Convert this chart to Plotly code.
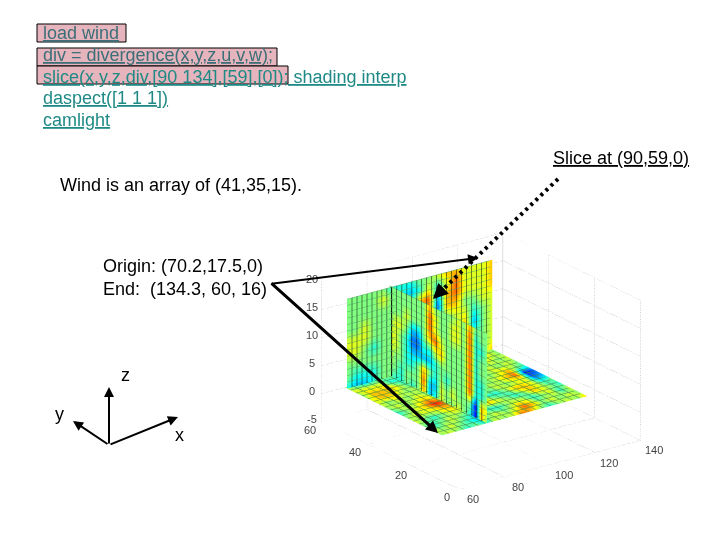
import plotly.graph_objects as go

W, H = 720, 540

# ---- data ----
floor_x = [70.2 + 4.006 * i for i in range(17)]
floor_y = [17.5, 21.4, 25.2, 29.1, 33.0, 36.8, 40.7, 44.5, 48.4, 52.2, 56.1, 60.0]
floor_div = [
    [0, 1, 0, -1, 0, -1, 1, 0, 1, 3, 2, 0, -1, 0, 1, 0, 2],
    [1, 0, 1, 0, -1, -2, 0, 1, 0, 1, 3, 2, 0, 1, 0, 1, 0],
    [0, -1, 0, 1, 0, -1, 1, -1, -1, 0, 1, 1, -1, 0, 1, -1, 1],
    [1, 0, -1, 0, 1, 1, 0, 1, 2, 1, 0, -1, 0, 2, 1, 0, -1],
    [0, 1, 1, 1, 2, 2, -1, 0, 1, -1, -1, 0, 2, 2, 1, -1, 0],
    [-1, 0, 1, 2, 4, 3, 0, -1, 0, 1, 0, 1, 0, 1, 1, -3, -2],
    [0, 1, 0, 1, 2, 1, 1, 0, -1, -2, 1, 0, 1, 2, 3, -4, -3],
    [1, 0, 1, 0, 1, 0, -1, 1, 0, 0, -1, 1, 0, 1, 2, 0, -1],
    [1, 2, 2, 1, 0, 1, 0, -1, 1, 0, 1, -1, 0, 1, 0, 1, 0],
    [0, 2, 2, 2, 1, -1, 0, 1, 0, 1, 0, 1, -1, 0, 1, 0, 1],
    [1, 1, 1, 1, -1, -1, 1, 0, -1, 1, 1, 0, 0, 1, 2, 1, 0],
    [0, -1, -2, -1, 0, 0, 0, 1, 1, 0, 0, 0, 1, 0, 1, 1, 0],
]

wall_x = floor_x
wall_y = 59.0
wall_z = [0, 2, 4, 6, 8, 10, 12, 14, 16]
wall_div = [
    [-1, -2, -2, -1, 0, 0, 0, 0, 0, 0, 0, 0, 0, 1, -1, 0, 2],
    [0, -1, -1, -1, 0, 0, 0, 0, 0, 0, 0, 0, 0, 1, -1, 0, 1],
    [0, 0, 0, 0, 0, 0, 0, 0, 0, 0, 0, 0, 0, 2, -1, 0, 1],
    [1, 1, 0, -1, 0, 0, 0, 0, 0, 0, 0, 0, 0, 2, -2, 0, 1],
    [1, 1, 1, 0, 0, 0, 0, 0, 0, 0, 0, 0, 1, 1, -1, 0, 1],
    [0, 0, 1, 0, 0, 0, 0, 0, 1, 3, -3, 2, 2, 0, 0, 1, 1],
    [0, 0, 0, 0, 0, 0, -1, -1, 2, 3, -2, 2, 3, 1, 1, 1, 2],
    [0, 0, 0, 0, 1, 0, -1, -2, -1, 1, -1, 1, 3, 1, 1, 1, 2],
    [0, 0, 0, 0, 0, -1, -1, -1, 0, 0, 1, 2, 2, 1, 1, 1, 2],
]

plane_x = 90.0
plane_y = [60, 57.5, 55, 52.5, 50, 47.5, 45, 42.5, 40, 37.5, 35, 32.5, 30, 27.5, 25, 22.5, 20, 17.5]
plane_z = [0, 2, 4, 6, 8, 10, 12, 14, 16]
plane_div = [
    [0, -1, -1, 0, -1, 0, 2, -2, -1, 1, 0, 0, 1, 0, -1, -4, 2, 0],
    [0, 0, -1, 0, 0, 0, 3, -2, -2, 1, 0, 1, 0, 0, 0, -4, 2, 1],
    [1, 0, 0, -1, -1, 0, 2, 0, -1, 0, -1, 0, 0, 0, 3, -1, -1, 0],
    [1, 1, 0, -1, -2, -2, -2, -2, -1, 0, 0, 0, 0, 0, 3, -1, -1, 0],
    [1, 1, 0, -1, -3, -3, -1, -1, 1, 2, 0, 0, 0, 0, 3, -1, 0, 0],
    [0, 1, 1, 0, -2, -2, 0, 2, 3, 1, 0, 0, 0, 0, 3, -1, 0, 0],
    [0, 0, 0, 1, 0, 0, 0, 3, 1, 0, 0, 1, 1, 0, 3, -1, -1, 0],
    [0, 0, 0, 0, 0, 0, 0, 3, 1, 0, 0, 1, 1, 0, 3, -1, 0, 0],
    [0, 0, 0, 0, 0, 0, 0, 2, 0, 0, 0, 0, 1, 0, 2, 0, 0, 0],
]

x_ticks = [60, 80, 100, 120, 140]
y_ticks = [0, 20, 40, 60]
z_ticks = [-5, 0, 5, 10, 15, 20]
x_range = [60, 140]
y_range = [0, 60]
z_range = [-5, 20]

code_lines = ["load wind", "div = divergence(x,y,z,u,v,w);",
              "slice(x,y,z,div,[90 134],[59],[0]); shading interp",
              "daspect([1 1 1])", "camlight"]
code_colors = ["#3d6f78", "#3d6f78", "#1f8a85", "#1f8a85", "#1f8a85"]
code_y = [33, 55, 77, 98, 120]
highlight_boxes = [(37, 24, 126, 42), (37, 48, 277, 66), (37, 66, 288, 84)]

notes = [
    ("<u>Slice at (90,59,0)</u>", 552, 158),
    ("Wind is an array of (41,35,15).", 59, 185),
    ("Origin: (70.2,17.5,0)", 102, 266),
    ("End:  (134.3, 60, 16)", 102, 289),
    ("z", 120, 375),
    ("y", 54, 414),
    ("x", 174, 435),
]
# (tail px, tip px, width)
solid_arrows = [
    ((270, 284), (478, 258), 2),
    ((270, 282), (438, 433), 3),
    ((109, 445), (109, 387), 2),
    ((109, 445), (73, 421), 2),
    ((109, 445), (178, 417), 2),
]
dotted_arrow = ((558, 179), (433, 299))


def px(x):
    return x / W


def py(y):
    return 1 - y / H


JET = [[0, "#00007f"], [0.125, "#0000ff"], [0.375, "#00ffff"],
       [0.625, "#ffff00"], [0.875, "#ff0000"], [1, "#7f0000"]]
surf_common = dict(colorscale=JET, cmin=-5.5, cmax=5.5, showscale=False, hoverinfo="skip",
                   lighting=dict(ambient=1, diffuse=0, specular=0, fresnel=0, roughness=1))


def contour(size, lo, hi, color, width=1):
    return dict(show=True, start=lo, end=hi, size=size, color=color, width=width, highlight=False)


no_contour = dict(show=False, highlight=False)
fig = go.Figure()

# floor z = 0
fig.add_trace(go.Surface(
    x=[[v for v in floor_x] for _ in floor_y],
    y=[[v] * len(floor_x) for v in floor_y],
    z=[[0] * len(floor_x) for _ in floor_y],
    surfacecolor=floor_div,
    contours=dict(x=contour(3.2, 70.2, 134.3, "#3c8a4a"), y=contour(2.5, 17.5, 60, "#3c8a4a"), z=no_contour),
    **surf_common))

# wall y = 59
fig.add_trace(go.Surface(
    x=[[v for v in wall_x] for _ in wall_z],
    y=[[wall_y] * len(wall_x) for _ in wall_z],
    z=[[v] * len(wall_x) for v in wall_z],
    surfacecolor=wall_div,
    contours=dict(x=contour(2.2, 70.2, 134.3, "#000000", 3), y=no_contour, z=contour(1.14, 0, 16, "#58b068")),
    **surf_common))

# plane x = 90
fig.add_trace(go.Surface(
    x=[[plane_x] * len(plane_y) for _ in plane_z],
    y=[[v for v in plane_y] for _ in plane_z],
    z=[[v] * len(plane_y) for v in plane_z],
    surfacecolor=plane_div,
    contours=dict(x=no_contour, y=contour(2.2, 17.5, 60, "#000000", 3), z=contour(1.14, 0, 16, "#58b068")),
    **surf_common))


def grid(xs, ys, zs, color="#a8a8a8", dash="dot", width=1):
    fig.add_trace(go.Scatter3d(x=xs, y=ys, z=zs, mode="lines", hoverinfo="skip", showlegend=False,
                               line=dict(color=color, width=width, dash=dash)))


x0, x1 = x_range
y0, y1 = y_range
z0, z1 = z_range
for v in x_ticks:
    grid([v, v], [y0, y1], [z0, z0])
    grid([v, v], [y1, y1], [z0, z1])
for v in y_ticks:
    grid([x0, x1], [v, v], [z0, z0])
    grid([x1, x1], [v, v], [z0, z1])
for v in z_ticks:
    grid([x0, x1], [y1, y1], [v, v])
    grid([x1, x1], [y0, y1], [v, v])
grid([x1, x1], [y1, y1], [z0, z1], color="#bdbdbd", dash="solid")

tick_font = dict(family="Liberation Sans", size=11, color="#444444")
scene_notes = []
for v in x_ticks:
    scene_notes.append(dict(x=v, y=y0, z=z0, text=str(v), showarrow=False, font=tick_font, xshift=14, yshift=-10))
for v in y_ticks:
    scene_notes.append(dict(x=x0, y=v, z=z0, text=str(v), showarrow=False, font=tick_font, xshift=-12, yshift=-8))
for v in z_ticks:
    scene_notes.append(dict(x=x0, y=y1, z=v, text=str(v), showarrow=False, font=tick_font, xshift=-10, yshift=3))

hidden = dict(visible=False, showgrid=False, zeroline=False, showbackground=False)
fig.update_layout(
    width=W, height=H, autosize=False, margin=dict(l=0, r=0, t=0, b=0),
    paper_bgcolor="white", showlegend=False,
    font=dict(family="Liberation Sans", size=18, color="black"),
    scene=dict(
        domain=dict(x=[246 / W, 716 / W], y=[0, 358 / H]),
        xaxis=dict(range=x_range, **hidden),
        yaxis=dict(range=y_range, **hidden),
        zaxis=dict(range=z_range, **hidden),
        aspectmode="manual",
        aspectratio=dict(x=1.26, y=1.29, z=0.84),
        camera=dict(eye=dict(x=-1.2, y=-1.62, z=0.79), up=dict(x=0, y=0, z=1),
                    center=dict(x=0, y=0, z=0), projection=dict(type="orthographic")),
        annotations=scene_notes,
    ),
)

shapes = []
for (a, b, c, d) in highlight_boxes:
    shapes.append(dict(type="rect", xref="paper", yref="paper", x0=px(a), y0=py(b), x1=px(c), y1=py(d),
                       fillcolor="#e6b4bc", line=dict(color="black", width=1), layer="below"))
(tx, ty), (hx, hy) = dotted_arrow
shapes.append(dict(type="line", xref="paper", yref="paper", x0=px(tx), y0=py(ty), x1=px(hx), y1=py(hy),
                   line=dict(color="black", width=4, dash="3px,4px"), layer="above"))
fig.update_layout(shapes=shapes)

ann = []
for t, c, yy in zip(code_lines, code_colors, code_y):
    ann.append(dict(text=f"<u>{t}</u>", x=px(42), y=py(yy), xref="paper", yref="paper", xanchor="left",
                    yanchor="middle", showarrow=False, font=dict(color=c, size=18), borderpad=0))
for t, a, b in notes:
    ann.append(dict(text=t, x=px(a), y=py(b), xref="paper", yref="paper", xanchor="left", yanchor="middle",
                    showarrow=False, font=dict(color="black", size=18), borderpad=0))
for (a, b), (c, d), w in solid_arrows:
    ann.append(dict(text="", x=px(c), y=py(d), xref="paper", yref="paper", ax=a - c, ay=b - d,
                    axref="pixel", ayref="pixel", showarrow=True, arrowhead=2, arrowsize=1 if w == 2 else 0.8,
                    arrowwidth=w, arrowcolor="black"))
ann.append(dict(text="", x=px(hx), y=py(hy), xref="paper", yref="paper", ax=12, ay=-12,
                axref="pixel", ayref="pixel", showarrow=True, arrowhead=2, arrowsize=1, arrowwidth=3,
                arrowcolor="black"))
fig.update_layout(annotations=ann)

fig.write_html("out.html", config=dict(displayModeBar=False),
               post_script="document.body.style.margin='0';document.body.style.overflow='hidden';")
